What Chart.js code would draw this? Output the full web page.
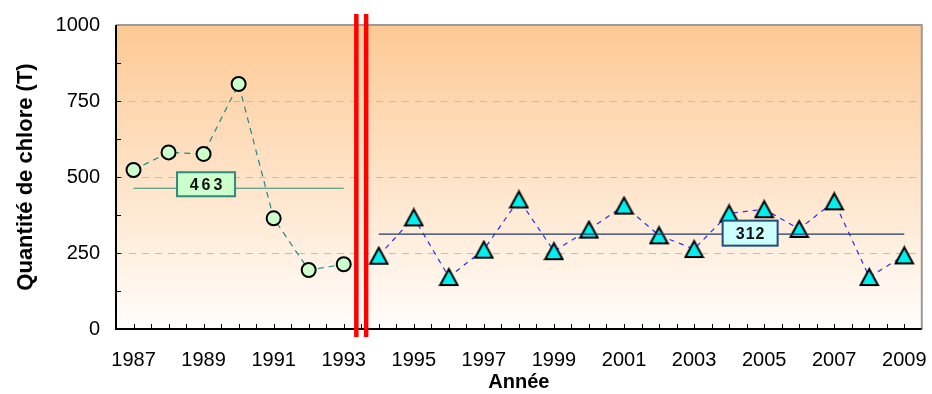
<!DOCTYPE html>
<html lang="fr">
<head>
<meta charset="utf-8">
<title>Quantité de chlore</title>
<script src="https://cdn.jsdelivr.net/npm/chart.js@4/dist/chart.umd.min.js"></script>
<style>
  html, body { margin: 0; padding: 0; background: #ffffff; }
  #wrap { width: 932px; height: 394px; position: relative; }
</style>
</head>
<body>
<div id="wrap"><canvas id="chart"></canvas></div>
<script>
// Chlorine quantities (tonnes), first period 1987–1993
const annees1 = [1987, 1988, 1989, 1990, 1991, 1992, 1993];
const chlore1 = [523, 581, 576, 806, 364, 194, 213];

// Second period 1994–2009
const annees2 = [1994, 1995, 1996, 1997, 1998, 1999, 2000, 2001, 2002, 2003, 2004, 2005, 2006, 2007, 2008, 2009];
const chlore2 = [241, 367, 171, 261, 426, 256, 327, 406, 308, 263, 380, 394, 329, 420, 171, 242];

// Period averages
const moyenne1 = 463;
const moyenne2 = 312;

// Axis tick labels
const anneesAffichees = [1987, 1989, 1991, 1993, 1995, 1997, 1999, 2001, 2003, 2005, 2007, 2009];
const graduationsY = [0, 250, 500, 750, 1000];

const FONT = '"Liberation Sans", Arial, Helvetica, sans-serif';

const pts = (xs, ys) => xs.map((x, i) => ({ x: x, y: ys[i] }));
const flat = (xs, v) => [{ x: xs[0], y: v }, { x: xs[xs.length - 1], y: v }];

// Triangle marker whose bounding box is centred on the data point
function triangleMarker() {
  const c = document.createElement('canvas');
  c.width = 21;
  c.height = 20;
  const t = c.getContext('2d');
  t.beginPath();
  t.moveTo(10.5, 2);
  t.lineTo(19.2, 18);
  t.lineTo(1.8, 18);
  t.closePath();
  t.fillStyle = '#00f0f0';
  t.fill();
  t.lineWidth = 2;
  t.lineJoin = 'miter';
  t.strokeStyle = '#000';
  t.stroke();
  return c;
}

// Plot background, dashed grid, frame and inner tick marks
const cadre = {
  id: 'cadre',
  beforeDraw(chart) {
    const { ctx, chartArea: a, scales: { x, y } } = chart;
    ctx.save();
    const g = ctx.createLinearGradient(0, a.top, 0, a.bottom);
    g.addColorStop(0, '#fdc994');
    g.addColorStop(1, '#fffdfb');
    ctx.fillStyle = g;
    ctx.fillRect(a.left, a.top, a.right - a.left, a.bottom - a.top);

    // dashed horizontal grid
    ctx.strokeStyle = '#bdbdbd';
    ctx.lineWidth = 1;
    ctx.setLineDash([7, 6]);
    graduationsY.forEach(v => {
      if (v === y.min || v === y.max) return;
      const py = Math.round(y.getPixelForValue(v)) + 0.5;
      ctx.beginPath();
      ctx.moveTo(a.left, py);
      ctx.lineTo(a.right, py);
      ctx.stroke();
    });
    ctx.setLineDash([]);

    // inner tick marks
    ctx.strokeStyle = '#000';
    ctx.lineWidth = 1;
    ctx.beginPath();
    for (let v = x.min + 0.5; v < x.max; v += 0.5) {
      const px = Math.round(x.getPixelForValue(v)) + 0.5;
      ctx.moveTo(px, a.bottom);
      ctx.lineTo(px, a.bottom - 5);
    }
    for (let v = 125; v < y.max; v += 125) {
      const py = Math.round(y.getPixelForValue(v)) + 0.5;
      ctx.moveTo(a.left, py);
      ctx.lineTo(a.left + 5, py);
    }
    ctx.stroke();

    // frame: grey top/right, black axes
    ctx.strokeStyle = '#9a9a9a';
    ctx.lineWidth = 2;
    ctx.beginPath();
    ctx.moveTo(a.left, a.top);
    ctx.lineTo(a.right, a.top);
    ctx.lineTo(a.right, a.bottom);
    ctx.stroke();
    ctx.strokeStyle = '#000';
    ctx.beginPath();
    ctx.moveTo(a.left, a.top);
    ctx.lineTo(a.left, a.bottom);
    ctx.lineTo(a.right, a.bottom);
    ctx.stroke();
    ctx.restore();
  }
};

// Average value boxes and the double red break line between the periods
const annotations = {
  id: 'annotations',
  afterDatasetsDraw(chart, args, opts) {
    const { ctx, chartArea: a, scales: { x, y } } = chart;
    ctx.save();
    opts.boites.forEach(b => {
      const cx = x.getPixelForValue(b.annee);
      const cy = y.getPixelForValue(b.valeur) + b.decalage;
      const w = b.largeur, h = b.hauteur;
      ctx.fillStyle = b.fond;
      ctx.strokeStyle = b.bord;
      ctx.lineWidth = 2;
      ctx.fillRect(cx - w / 2, cy - h / 2, w, h);
      ctx.strokeRect(cx - w / 2, cy - h / 2, w, h);
      ctx.fillStyle = '#111';
      ctx.font = 'bold 16px ' + FONT;
      ctx.textAlign = 'center';
      ctx.textBaseline = 'middle';
      if ('letterSpacing' in ctx) ctx.letterSpacing = b.espacement + 'px';
      ctx.fillText(String(b.valeur), cx + b.espacement / 2, cy + 1);
      if ('letterSpacing' in ctx) ctx.letterSpacing = '0px';
    });
    ctx.strokeStyle = '#ff0000';
    ctx.lineWidth = 4.5;
    opts.rupture.forEach(v => {
      const px = x.getPixelForValue(v);
      ctx.beginPath();
      ctx.moveTo(px, a.top - 11);
      ctx.lineTo(px, a.bottom + 8);
      ctx.stroke();
    });
    ctx.restore();
  }
};

new Chart(document.getElementById('chart'), {
  type: 'line',
  data: {
    datasets: [
      {
        label: 'Moyenne 1987-1993',
        data: flat(annees1, moyenne1),
        borderColor: '#2f8f72',
        borderWidth: 1,
        pointRadius: 0,
        fill: false
      },
      {
        label: 'Moyenne 1994-2009',
        data: flat(annees2, moyenne2),
        borderColor: '#1f3864',
        borderWidth: 1.2,
        pointRadius: 0,
        fill: false
      },
      {
        label: '1987-1993',
        data: pts(annees1, chlore1),
        borderColor: '#1e8a8a',
        borderWidth: 1.2,
        borderDash: [6, 5],
        pointStyle: 'circle',
        pointRadius: 7,
        pointBorderWidth: 2,
        pointBackgroundColor: '#ccffcc',
        pointBorderColor: '#000',
        tension: 0,
        fill: false
      },
      {
        label: '1994-2009',
        data: pts(annees2, chlore2),
        borderColor: '#2a2aff',
        borderWidth: 1.2,
        borderDash: [5, 5],
        pointStyle: triangleMarker(),
        pointRadius: 9,
        tension: 0,
        fill: false
      }
    ]
  },
  options: {
    responsive: true,
    maintainAspectRatio: false,
    animation: false,
    layout: { padding: { left: 0, right: 8, top: 25, bottom: 0 } },
    plugins: {
      legend: { display: false },
      tooltip: { enabled: false },
      annotations: {
        boites: [
          { annee: 1989.07, valeur: moyenne1, decalage: -4, largeur: 58, hauteur: 24, fond: '#ccffcc', bord: '#2e8b7a', espacement: 3 },
          { annee: 2004.6, valeur: moyenne2, decalage: -1, largeur: 55, hauteur: 25, fond: '#ccffff', bord: '#1f4e79', espacement: 1 }
        ],
        rupture: [1993.36, 1993.64]
      }
    },
    scales: {
      x: {
        type: 'linear',
        min: 1986.5,
        max: 2009.5,
        grid: { display: false, drawTicks: true, tickLength: 19 },
        border: { display: false },
        afterBuildTicks: s => { s.ticks = anneesAffichees.map(v => ({ value: v })); },
        afterFit: s => { s.height = 65; },
        ticks: {
          autoSkip: false,
          maxRotation: 0,
          padding: 0,
          color: '#000',
          font: { family: FONT, size: 20 },
          callback: v => String(v)
        },
        title: {
          display: true,
          text: 'Année',
          color: '#000',
          font: { family: FONT, size: 20, weight: 'bold' },
          padding: { top: 0, bottom: 0 }
        }
      },
      y: {
        min: 0,
        max: 1000,
        grid: { display: false, drawTicks: true, tickLength: 16 },
        border: { display: false },
        afterBuildTicks: s => { s.ticks = graduationsY.map(v => ({ value: v })); },
        afterFit: s => { s.width = 116; },
        ticks: {
          padding: 0,
          color: '#000',
          font: { family: FONT, size: 20 },
          callback: v => String(v)
        },
        title: {
          display: true,
          text: 'Quantité de chlore (T)',
          color: '#000',
          font: { family: FONT, size: 22, weight: 'bold' },
          padding: { top: 13, bottom: 0 }
        }
      }
    }
  },
  plugins: [cadre, annotations]
});
</script>
</body>
</html>
